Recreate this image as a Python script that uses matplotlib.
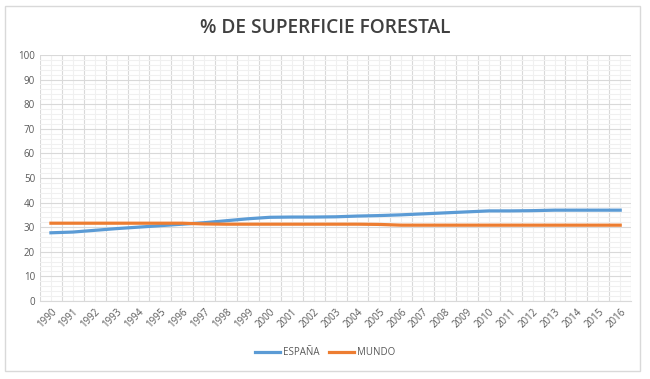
import matplotlib.pyplot as plt
import numpy as np
from matplotlib.patches import Rectangle

years = [str(y) for y in range(1990, 2017)]
espana = [27.7, 28.0, 28.7, 29.4, 30.0, 30.6, 31.2, 31.8, 32.6, 33.4, 34.0, 34.1, 34.1,
          34.2, 34.5, 34.7, 35.0, 35.4, 35.8, 36.2, 36.6, 36.6, 36.7, 36.9, 36.9, 36.9, 36.9]
mundo = [31.6, 31.6, 31.6, 31.6, 31.6, 31.6, 31.6, 31.3, 31.2, 31.2, 31.2, 31.2, 31.2,
         31.2, 31.2, 31.1, 30.8, 30.8, 30.8, 30.8, 30.8, 30.8, 30.8, 30.8, 30.8, 30.8, 30.8]

plt.rcParams['font.family'] = ['Open Sans', 'DejaVu Sans']
text_color = '#595959'

fig = plt.figure(figsize=(6.5, 3.79), dpi=100)
fig.patches.append(Rectangle((0.008, 0.02), 0.976, 0.965, transform=fig.transFigure,
                             fill=False, edgecolor='#D9D9D9', linewidth=1))

ax = fig.add_axes([0.0615, 0.206, 0.9095, 0.649])
x = np.arange(len(years))
ax.plot(x, espana, color='#5B9BD5', linewidth=2.3, label='ESPAÑA')
ax.plot(x, mundo, color='#ED7D31', linewidth=2.3, label='MUNDO')

ax.set_xlim(-0.5, len(years) - 0.5)
ax.set_ylim(0, 100)
ax.set_yticks(np.arange(0, 101, 10))
ax.set_yticks(np.arange(0, 101, 2), minor=True)
ax.set_xticks(x)
ax.set_xticklabels(years, rotation=45, ha='right', rotation_mode='anchor')
ax.set_xticks(np.arange(-0.5, len(years), 1), minor=True)

# major vertical lines at category boundaries, lighter ones at centres
for b in np.arange(-0.5, len(years), 1):
    ax.axvline(b, color='#D9D9D9', linewidth=0.8, zorder=0)
for c in x:
    ax.axvline(c, color='#F0F0F0', linewidth=0.8, zorder=0)
ax.yaxis.grid(True, which='major', color='#D9D9D9', linewidth=0.8)
ax.yaxis.grid(True, which='minor', color='#F0F0F0', linewidth=0.8)
ax.set_axisbelow(True)

ax.tick_params(which='both', length=0, colors=text_color, labelsize=7)
ax.tick_params(axis='x', pad=4)
for s in ax.spines.values():
    s.set_visible(False)
ax.spines['bottom'].set_visible(True)
ax.spines['bottom'].set_color('#D9D9D9')

fig.text(0.5, 0.925, '% DE SUPERFICIE FORESTAL', ha='center', va='center',
         fontsize=13.8, fontweight='semibold', color='#404040')

fig.legend(loc='center', bbox_to_anchor=(0.5, 0.07), ncol=2, frameon=False,
           fontsize=7, labelcolor=text_color, handlelength=2.6, columnspacing=1.0,
           handletextpad=0.3)

fig.savefig('out.png', dpi=100, facecolor='white')
